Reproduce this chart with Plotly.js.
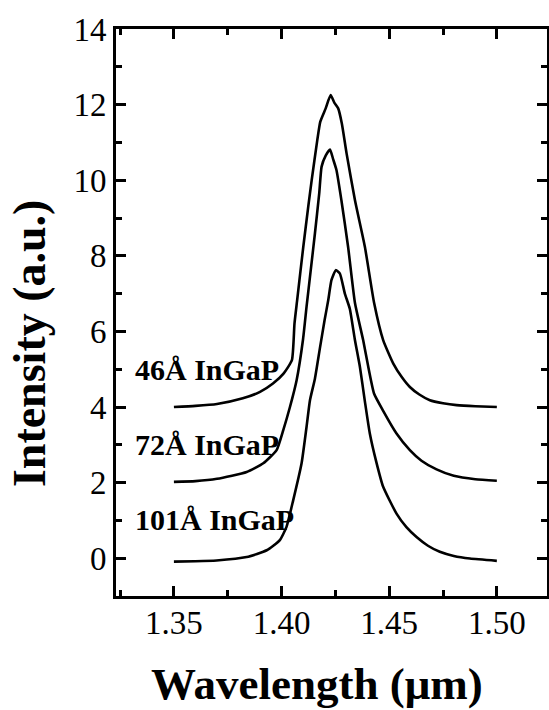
<!DOCTYPE html>
<html>
<head>
<meta charset="utf-8">
<script src="https://cdn.plot.ly/plotly-3.0.1.min.js"></script>
<style>html,body{margin:0;padding:0;background:#fff;}#chart{width:549px;height:710px;}</style>
</head>
<body>
<div id="chart"></div>
<script>
// Wavelength (µm) and intensity (a.u.) samples for each InGaP thickness
var wl46 = [1.350, 1.360, 1.370, 1.382, 1.390, 1.396, 1.401, 1.4048, 1.4060, 1.4072, 1.4101, 1.4124, 1.4140, 1.4166, 1.4180, 1.4205, 1.4228, 1.4245, 1.4263, 1.4280, 1.4302, 1.4341, 1.4387, 1.4430, 1.4472, 1.4519, 1.4560, 1.4596, 1.4640, 1.4689, 1.4750, 1.4813, 1.4900, 1.5000];
var int46 = [4.00, 4.03, 4.08, 4.23, 4.40, 4.62, 4.89, 5.24, 6.20, 6.80, 8.24, 9.30, 10.00, 11.06, 11.55, 11.90, 12.25, 12.05, 11.90, 11.50, 10.71, 9.47, 8.24, 6.75, 5.77, 5.15, 4.78, 4.53, 4.33, 4.18, 4.10, 4.05, 4.02, 4.00];

var wl72 = [1.350, 1.360, 1.370, 1.3838, 1.3915, 1.3977, 1.4008, 1.4039, 1.4070, 1.4100, 1.4116, 1.4132, 1.4155, 1.4175, 1.4186, 1.4205, 1.4225, 1.4240, 1.4255, 1.4278, 1.4309, 1.4341, 1.4379, 1.4405, 1.4430, 1.4472, 1.4534, 1.4596, 1.4650, 1.4720, 1.4800, 1.4900, 1.5000];
var int72 = [2.02, 2.04, 2.10, 2.28, 2.51, 2.86, 3.39, 4.00, 4.71, 5.80, 6.65, 7.44, 8.59, 9.65, 10.36, 10.65, 10.81, 10.55, 10.27, 9.47, 8.24, 6.75, 5.77, 5.00, 4.35, 3.90, 3.30, 2.86, 2.58, 2.35, 2.18, 2.09, 2.05];

var wl101 = [1.350, 1.360, 1.3698, 1.3838, 1.3931, 1.3992, 1.4023, 1.4054, 1.4093, 1.4116, 1.4132, 1.4155, 1.4178, 1.4200, 1.4217, 1.4232, 1.4252, 1.4271, 1.4294, 1.4317, 1.4340, 1.4364, 1.4387, 1.4410, 1.4440, 1.4472, 1.4534, 1.4580, 1.4627, 1.4680, 1.4735, 1.4800, 1.4875, 1.5000];
var int101 = [-0.09, -0.08, -0.06, 0.03, 0.21, 0.48, 0.83, 1.53, 2.51, 3.47, 4.18, 4.75, 5.55, 6.30, 6.83, 7.36, 7.62, 7.53, 7.00, 6.60, 5.80, 5.06, 4.15, 3.30, 2.55, 1.89, 1.18, 0.82, 0.56, 0.33, 0.17, 0.06, -0.01, -0.07];

var seriesNames = ["46Å InGaP", "72Å InGaP", "101Å InGaP"];
var labelY = [5.0, 3.02, 1.03];
var labelX = 1.331;

var xTickVals = [1.35, 1.40, 1.45, 1.50];
var xTickText = ["1.35", "1.40", "1.45", "1.50"];
var yTickVals = [0, 2, 4, 6, 8, 10, 12, 14];
var yTickText = ["0", "2", "4", "6", "8", "10", "12", "14"];

var lineStyle = {color: "#000", width: 2.6, shape: "spline", smoothing: 0.5};
var traces = [
  {x: wl46, y: int46, name: seriesNames[0]},
  {x: wl72, y: int72, name: seriesNames[1]},
  {x: wl101, y: int101, name: seriesNames[2]}
].map(function (t) {
  t.type = "scatter"; t.mode = "lines"; t.line = lineStyle; t.hoverinfo = "skip";
  return t;
});

var serif = '"Liberation Serif", "Times New Roman", serif';
var annotations = seriesNames.map(function (n, i) {
  return {x: labelX, y: labelY[i], xref: "x", yref: "y", text: "<b>" + n + "</b>",
    showarrow: false, xanchor: "left", yanchor: "middle",
    font: {family: serif, size: 30, color: "#000"}};
});
annotations.push({x: -0.2019, y: 0.446, xref: "paper", yref: "paper", text: "<b>Intensity (a.u.)</b>",
  textangle: -90, showarrow: false, xanchor: "center", yanchor: "middle",
  font: {family: serif, size: 46, color: "#000"}});
annotations.push({x: 0.4675, y: -0.155, xref: "paper", yref: "paper", text: "<b>Wavelength (μm)</b>",
  showarrow: false, xanchor: "center", yanchor: "middle",
  font: {family: serif, size: 45, color: "#000"}});

var layout = {
  width: 549, height: 710,
  margin: {l: 116, r: 2, t: 29, b: 114, pad: 0},
  paper_bgcolor: "#fff", plot_bgcolor: "#fff",
  showlegend: false,
  font: {family: serif, color: "#000"},
  xaxis: {
    range: [1.3231, 1.5233], showgrid: false, zeroline: false,
    showline: true, linecolor: "#000", linewidth: 3, mirror: "ticks",
    ticks: "inside", ticklen: 10, tickwidth: 3, tickcolor: "#000",
    tickmode: "array", tickvals: xTickVals, ticktext: xTickText,
    ticklabelstandoff: -5,
    tickfont: {family: serif, size: 33, color: "#000"},
    minor: {ticks: "inside", ticklen: 6, tickwidth: 3, tickcolor: "#000", dtick: 0.025, tick0: 1.35, showgrid: false}
  },
  yaxis: {
    range: [-1, 14], showgrid: false, zeroline: false,
    showline: true, linecolor: "#000", linewidth: 3, mirror: "ticks",
    ticks: "inside", ticklen: 10, tickwidth: 3, tickcolor: "#000",
    tickmode: "array", tickvals: yTickVals, ticktext: yTickText,
    tickfont: {family: serif, size: 33, color: "#000"},
    minor: {ticks: "inside", ticklen: 6, tickwidth: 3, tickcolor: "#000", dtick: 1, tick0: 1, showgrid: false}
  },
  annotations: annotations
};

Plotly.newPlot("chart", traces, layout, {staticPlot: true, displayModeBar: false});
</script>
</body>
</html>
